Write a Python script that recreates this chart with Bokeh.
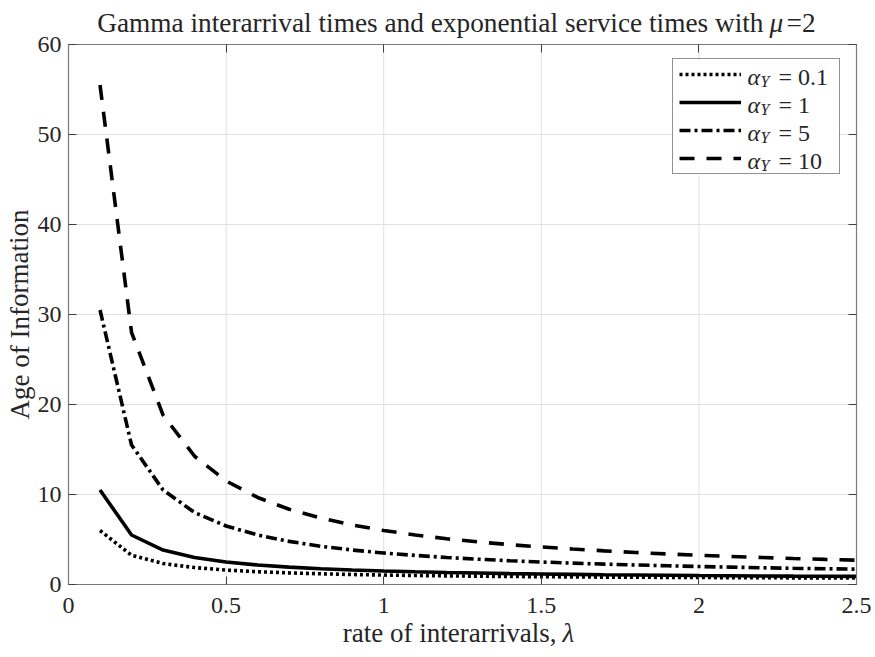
from bokeh.plotting import figure
from bokeh.models import Range1d, Legend, LegendItem, LinearAxis, FixedTicker, CustomJSTickFormatter
from bokeh.core.properties import value
from bokeh.embed import file_html
from bokeh.resources import INLINE

# arrival rates lambda
rates = [0.1, 0.2, 0.3, 0.4, 0.5, 0.6, 0.7, 0.8, 0.9, 1.0,
         1.1, 1.2, 1.3, 1.4, 1.5, 1.6, 1.7, 1.8, 1.9, 2.0,
         2.1, 2.2, 2.3, 2.4, 2.5]

# average age of information for each gamma shape parameter alpha_Y
age_a01 = [6.0, 3.25, 2.33, 1.88, 1.6, 1.42, 1.29, 1.19, 1.11, 1.05,
           1.0, 0.96, 0.92, 0.89, 0.87, 0.84, 0.82, 0.81, 0.79, 0.78,
           0.76, 0.75, 0.74, 0.73, 0.72]
age_a1 = [10.5, 5.5, 3.83, 3.0, 2.5, 2.17, 1.93, 1.75, 1.61, 1.5,
          1.41, 1.33, 1.27, 1.21, 1.17, 1.13, 1.09, 1.06, 1.03, 1.0,
          0.98, 0.95, 0.93, 0.92, 0.9]
age_a5 = [30.5, 15.5, 10.5, 8.0, 6.5, 5.5, 4.79, 4.25, 3.83, 3.5,
          3.23, 3.0, 2.81, 2.64, 2.5, 2.38, 2.26, 2.17, 2.08, 2.0,
          1.93, 1.86, 1.8, 1.75, 1.7]
age_a10 = [55.5, 28.0, 18.83, 14.25, 11.5, 9.67, 8.36, 7.38, 6.61, 6.0,
           5.5, 5.08, 4.73, 4.43, 4.17, 3.94, 3.74, 3.56, 3.39, 3.25,
           3.12, 3.0, 2.89, 2.79, 2.7]

alpha_labels = ["0.1", "1", "5", "10"]
x_ticks = [0, 0.5, 1, 1.5, 2, 2.5]
y_ticks = [0, 10, 20, 30, 40, 50, 60]
X_MIN, X_MAX = 0, 2.5
Y_MIN, Y_MAX = 0, 60

SERIF = "Liberation Serif"
TXT = "#262626"
AX = "#7a7a7a"
W, H = 875, 657
BOX_L, BOX_R, BOX_T, BOX_B = 68, 856, 44, 584   # axes box on the page, in pixels


def dx(px):
    # horizontal page pixel -> data x
    return X_MIN + (px - BOX_L) / (BOX_R - BOX_L) * (X_MAX - X_MIN)


def dy(py):
    # vertical page pixel (from the top) -> data y
    return Y_MIN + (BOX_B - py) / (BOX_B - BOX_T) * (Y_MAX - Y_MIN)


# the frame fills the canvas; the axes sit at fixed data locations around the box
p = figure(width=W, height=H, output_backend="svg", toolbar_location=None, title=None,
           x_range=Range1d(dx(0), dx(W)), y_range=Range1d(dy(H), dy(0)),
           min_border=0, outline_line_color=None)
p.background_fill_color = "white"
p.border_fill_color = "white"
p.grid.visible = False

xax, yax = p.xaxis[0], p.yaxis[0]
xax.fixed_location = Y_MIN
xax.bounds = (X_MIN, X_MAX)
yax.fixed_location = X_MIN
yax.bounds = (Y_MIN, Y_MAX)
xax.ticker = FixedTicker(ticks=x_ticks)
yax.ticker = FixedTicker(ticks=y_ticks)
for ax in (xax, yax):
    ax.axis_line_color = AX
    ax.axis_line_width = 1.2
    ax.major_tick_line_color = "#404040"
    ax.major_tick_in = 8
    ax.major_tick_out = 0
    ax.minor_tick_line_color = None
    ax.major_label_text_font = SERIF
    ax.major_label_text_font_size = "24px"
    ax.major_label_text_color = TXT
xax.major_label_standoff = 13
yax.major_label_standoff = 7

# top and right edges of the box, with mirrored ticks
blank = CustomJSTickFormatter(code="return ''")
top_ax = LinearAxis(ticker=FixedTicker(ticks=x_ticks), formatter=blank,
                    fixed_location=Y_MAX, bounds=(X_MIN, X_MAX))
right_ax = LinearAxis(ticker=FixedTicker(ticks=y_ticks), formatter=blank,
                      fixed_location=X_MAX, bounds=(Y_MIN, Y_MAX))
for ax in (top_ax, right_ax):
    ax.axis_line_color = AX
    ax.axis_line_width = 1.2
    ax.major_tick_line_color = "#404040"
    ax.major_tick_in = 8
    ax.major_tick_out = 0
    ax.minor_tick_line_color = None
    ax.major_label_standoff = 0
p.add_layout(top_ax, "above")
p.add_layout(right_ax, "right")

# grid lines inside the box only
GRID = "#e0e0e0"
p.segment(x0=x_ticks, y0=[Y_MIN] * len(x_ticks), x1=x_ticks, y1=[Y_MAX] * len(x_ticks),
          line_color=GRID, line_width=1)
p.segment(x0=[X_MIN] * len(y_ticks), y0=y_ticks, x1=[X_MAX] * len(y_ticks), y1=y_ticks,
          line_color=GRID, line_width=1)

# opaque legend panel under the legend frame
p.quad(left=[dx(672)], right=[dx(838)], top=[dy(60)], bottom=[dy(174)],
       fill_color="white", line_color=None)

LW = 3.6
r01 = p.line(rates, age_a01, line_color="black", line_width=LW, line_dash="3 3")
r1 = p.line(rates, age_a1, line_color="black", line_width=LW)
r5 = p.line(rates, age_a5, line_color="black", line_width=LW, line_dash="11 4 3 4")
r10 = p.line(rates, age_a10, line_color="black", line_width=LW, line_dash="15 12")


def write(px, py, text, size, italic=False, align="left", angle=0.0):
    p.text(x=[dx(px)], y=[dy(py)], text=[text], text_font=value(SERIF),
           text_font_size=size, text_font_style="italic" if italic else "normal",
           text_color=TXT, text_align=align, text_baseline="middle", angle=angle)


# legend texts alpha_Y = value
rows_y = [75, 103, 131, 159]
for lab, ry in zip(alpha_labels, rows_y):
    write(747, ry + 1, "\u03b1", "24px", italic=True)
    write(760, ry + 6, "Y", "16px", italic=True)
    write(778, ry + 1, "= " + lab, "24px")

legend = Legend(items=[LegendItem(label=" ", renderers=[r]) for r in (r01, r1, r5, r10)],
                location=(672, H - 174), padding=6, spacing=10,
                glyph_width=62, glyph_height=18, label_height=18, label_width=86,
                label_standoff=6, label_text_alpha=0,
                border_line_color=TXT, border_line_width=1,
                background_fill_alpha=0)
p.add_layout(legend)

# title with an italic mu
write(763, 22, "Gamma interarrival times and exponential service times with", "27.3px", align="right")
write(769, 22, "\u03bc", "27.3px", italic=True)
write(786, 22, "=2", "27.3px")

# axis labels
write(556, 632, "rate of interarrivals,", "27px", align="right")
write(562, 632, "\u03bb", "27px", italic=True)
write(19, (BOX_T + BOX_B) / 2, "Age of Information", "27px", align="center", angle=1.5708)

open("out.html", "w").write(file_html(p, INLINE))
